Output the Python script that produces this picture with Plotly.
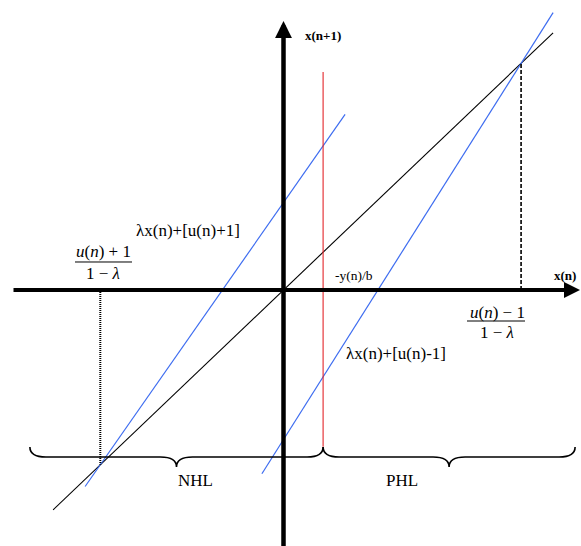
import plotly.graph_objects as go

# ---- data -------------------------------------------------------------
# Identity line x(n+1) = x(n)
identity_x = [-5.76, 6.74]

# Two affine maps x(n+1) = slope * x(n) + intercept  (upper branch, lower branch)
blue_slopes = [1.50, 1.66]
blue_intercepts = [2.29, -3.92]
blue_x_ranges = [[-4.96, 1.54], [-0.54, 6.74]]
blue_labels = ["λx(n)+[u(n)+1]", "λx(n)+[u(n)-1]"]

# Switching boundary x(n) = -y(n)/b
boundary_x = 0.99
boundary_y = [-4.11, 5.71]
boundary_label = "-y(n)/b"

# Half-line regions under the horizontal axis
region_labels = ["NHL", "PHL"]
region_x = [-6.34, 0.99, 7.29]

axis_labels = ["x(n)", "x(n+1)"]

# ---- figure -------------------------------------------------------------
X_RANGE = [-7.0875, 7.4375]
Y_RANGE = [-6.7086, 7.5996]
SERIF = "Liberation Serif, Times New Roman, serif"
BLUE = "#3d6cf0"
RED = "#e3262b"

fig = go.Figure()

# identity line
fig.add_trace(go.Scatter(x=identity_x, y=identity_x, mode="lines",
                         line=dict(color="black", width=1.1), hoverinfo="skip"))

# the two affine branches
for slope, icpt, xr in zip(blue_slopes, blue_intercepts, blue_x_ranges):
    fig.add_trace(go.Scatter(x=xr, y=[slope * v + icpt for v in xr], mode="lines",
                             line=dict(color=BLUE, width=1.2), hoverinfo="skip"))

# boundary
fig.add_trace(go.Scatter(x=[boundary_x, boundary_x], y=boundary_y, mode="lines",
                         line=dict(color=RED, width=1.1), hoverinfo="skip"))

shapes = []

# fixed points of each branch: x* = c / (1 - slope)
fixed = [c / (1 - s) for s, c in zip(blue_slopes, blue_intercepts)]
shapes.append(dict(type="line", xref="x", yref="y", x0=fixed[0], x1=fixed[0],
                   y0=0, y1=fixed[0], line=dict(color="black", width=2, dash="1px,1px")))
shapes.append(dict(type="line", xref="x", yref="y", x0=fixed[1], x1=fixed[1],
                   y0=0, y1=fixed[1], line=dict(color="black", width=1.6, dash="4px,2px")))


def brace(xa, xb, y_top=-4.114, y_mid=-4.376, y_tip=-4.638, r=0.4):
    xm = (xa + xb) / 2
    return (f"M {xa},{y_top} Q {xa},{y_mid} {xa + r},{y_mid} "
            f"L {xm - r},{y_mid} Q {xm},{y_mid} {xm},{y_tip} "
            f"Q {xm},{y_mid} {xm + r},{y_mid} "
            f"L {xb - r},{y_mid} Q {xb},{y_mid} {xb},{y_top}")


for xa, xb in zip(region_x[:-1], region_x[1:]):
    shapes.append(dict(type="path", xref="x", yref="y", path=brace(xa, xb),
                       line=dict(color="black", width=1.6)))

# fraction bars
shapes.append(dict(type="line", xref="x", yref="y", x0=-5.2125, x1=-3.7875,
                   y0=0.734, y1=0.734, line=dict(color="black", width=1)))
shapes.append(dict(type="line", xref="x", yref="y", x0=4.5875, x1=6.0375,
                   y0=-0.8124, y1=-0.8124, line=dict(color="black", width=1)))

ann = []
# axes with arrow heads
ann.append(dict(x=7.4125, y=0, ax=-6.7875, ay=0, xref="x", yref="y", axref="x", ayref="y",
                text="", showarrow=True, arrowhead=2, arrowwidth=4, arrowsize=0.8,
                arrowcolor="black", standoff=0))
ann.append(dict(x=0, y=7.049, ax=0, ay=-6.75, xref="x", yref="y", axref="x", ayref="y",
                text="", showarrow=True, arrowhead=2, arrowwidth=4.5, arrowsize=0.75,
                arrowcolor="black", standoff=0))


def label(x, y, text, size=17):
    ann.append(dict(x=x, y=y, xref="x", yref="y", text=text, showarrow=False,
                    font=dict(family=SERIF, size=size, color="black"),
                    xanchor="center", yanchor="middle"))


label(7.0375, 0.393, f"<b>{axis_labels[0]}</b>", 13)
label(0.9875, 6.682, f"<b>{axis_labels[1]}</b>", 13)
label(1.7625, 0.393, boundary_label, 13.5)
label(-2.3875, 1.572, blue_labels[0], 17)
label(2.8125, -1.651, blue_labels[1], 17)
label(-4.5125, 0.996, "<i>u</i>(<i>n</i>) + 1", 17)
label(-4.5125, 0.4455, "1 − <i>λ</i>", 17)
label(5.3375, -0.5765, "<i>u</i>(<i>n</i>) − 1", 17)
label(5.3375, -1.1006, "1 − <i>λ</i>", 17)
label(-2.2125, -4.979, region_labels[0], 17)
label(2.9625, -4.979, region_labels[1], 17)

fig.update_layout(
    width=581, height=546, margin=dict(l=0, r=0, t=0, b=0),
    paper_bgcolor="white", plot_bgcolor="white", showlegend=False,
    xaxis=dict(range=X_RANGE, visible=False, fixedrange=True),
    yaxis=dict(range=Y_RANGE, visible=False, fixedrange=True),
    shapes=shapes, annotations=ann,
)

fig.write_html("out.html", config={"displayModeBar": False})
